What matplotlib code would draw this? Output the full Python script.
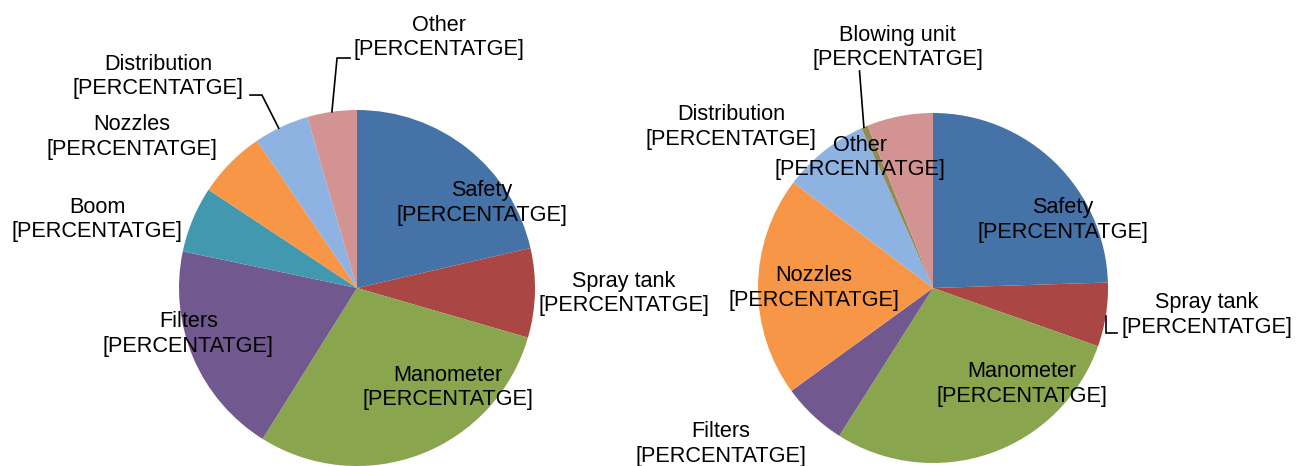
import numpy as np
import matplotlib
matplotlib.use('Agg')
import matplotlib.pyplot as plt

plt.rcParams['font.family'] = ['Liberation Sans', 'DejaVu Sans']

# Left pie
left_labels = ['Safety', 'Spray tank', 'Manometer', 'Filters', 'Boom', 'Nozzles', 'Distribution', 'Other']
left_values = [21.4, 8.1, 29.4, 19.4, 6.0, 6.2, 5.0, 4.5]
left_colors = ['#4572A7', '#AA4643', '#89A54E', '#71588F', '#4198AF', '#F79646', '#8EB3E2', '#D39392']

# Right pie
right_labels = ['Safety', 'Spray tank', 'Manometer', 'Filters', 'Nozzles', 'Distribution', 'Blowing unit', 'Other']
right_values = [24.5, 5.9, 28.6, 6.0, 20.3, 8.0, 0.6, 6.1]
right_colors = ['#4572A7', '#AA4643', '#89A54E', '#71588F', '#F79646', '#8EB3E2', '#948A54', '#D39392']

pct_text = '[PERCENTATGE]'

# label centres in pie-radius units
left_pos = [(0.70, 0.478), (1.50, -0.03), (0.511, -0.559), (-0.948, -0.258),
            (-1.461, 0.385), (-1.264, 0.848), (-1.118, 1.188), (0.462, 1.407)]
right_pos = [(0.743, 0.389), (1.566, -0.154), (0.509, -0.549), (-1.211, -0.891),
             (-0.68, 0.0), (-1.154, 0.92), (-0.203, 1.374), (-0.417, 0.746)]

W, H = 1304, 466
fig = plt.figure(figsize=(W / 100, H / 100), dpi=100)


def draw_pie(cx, cy, r, values, colors, labels, positions, leaders):
    # 1 data unit == r pixels, pie centred at (cx, cy measured from top)
    half = 380
    bottom = H - cy
    ax = fig.add_axes([(cx - half) / W, 0, 2 * half / W, 1])
    wedges, _ = ax.pie(values, colors=colors, startangle=90, counterclock=False,
                       radius=1, center=(0, 0), frame=True,
                       wedgeprops=dict(linewidth=0))
    ax.set_aspect('auto')
    ax.set_xlim(-half / r, half / r)
    ax.set_ylim(-bottom / r, (H - bottom) / r)
    ax.axis('off')
    ax.patch.set_alpha(0)
    for lab, (tx, ty) in zip(labels, positions):
        ax.text(tx, ty, lab + '\n' + pct_text, ha='center', va='center',
                fontsize=15.6, color='black')
    # leader lines: start on the wedge rim (fraction f from theta1 to theta2)
    for idx, (f, pts, vertical_first) in leaders.items():
        w = wedges[idx]
        ang = np.deg2rad(w.theta1 + f * (w.theta2 - w.theta1))
        sx, sy = np.cos(ang), np.sin(ang)
        xs, ys = [sx], [sy]
        if vertical_first:
            xs.append(sx)
            ys.append(pts[0][1])
            pts = pts[1:]
        xs += [p[0] for p in pts]
        ys += [p[1] for p in pts]
        ax.plot(xs, ys, color='black', lw=1.2, solid_joinstyle='miter')
    return ax


draw_pie(357, 288, 178, left_values, left_colors, left_labels, left_pos,
         {6: (0.55, [(-0.534, 1.084), (-0.601, 1.084)], False),
          7: (0.50, [(-0.112, 1.292), (-0.039, 1.292)], False)})
draw_pie(933, 288, 175, right_values, right_colors, right_labels, right_pos,
         {6: (0.6, [(-0.42, 1.24)], False),
          1: (0.48, [(0, -0.257), (1.051, -0.257)], True)})

fig.savefig('out.png', dpi=100, facecolor='white')
